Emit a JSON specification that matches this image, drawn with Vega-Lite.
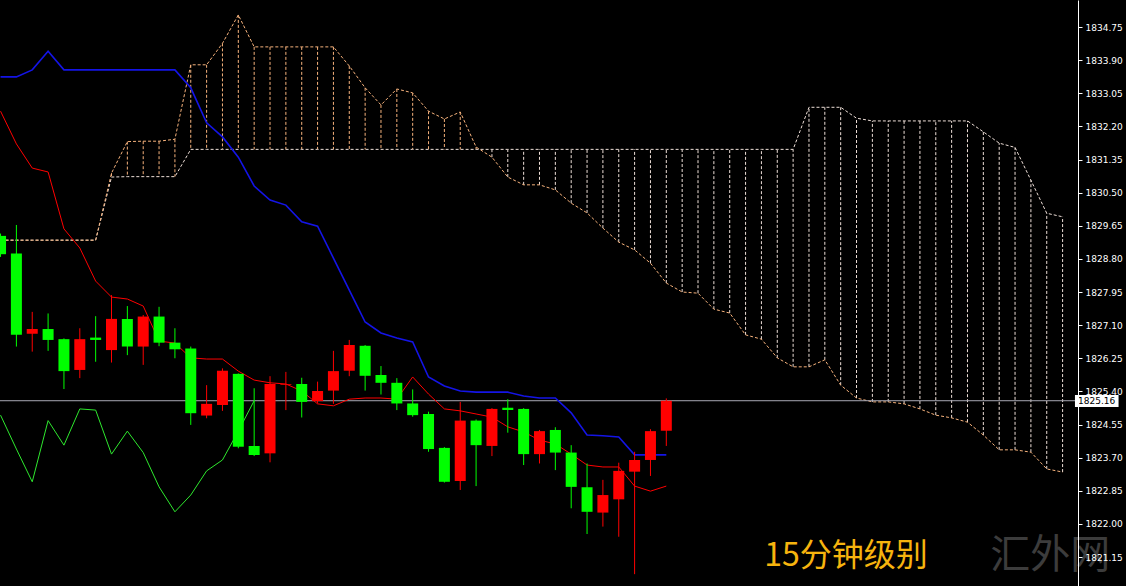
{
  "$schema": "https://vega.github.io/schema/vega-lite/v6.json",
  "width": 1078,
  "height": 586,
  "autosize": {"type": "none"},
  "padding": {"left": 0, "top": 0, "right": 48, "bottom": 0},
  "background": "#000000",
  "config": {"view": {"stroke": null}},
  "datasets": {
    "one": [{}],
    "candles": [
      {"i": -1, "o": 1829.39, "h": 1829.45, "l": 1828.85, "c": 1828.92},
      {"i": 0, "o": 1828.94, "h": 1829.67, "l": 1826.55, "c": 1826.85},
      {"i": 1, "o": 1826.88, "h": 1827.44, "l": 1826.42, "c": 1827.00},
      {"i": 2, "o": 1827.00, "h": 1827.40, "l": 1826.44, "c": 1826.72},
      {"i": 3, "o": 1826.74, "h": 1826.76, "l": 1825.46, "c": 1825.92},
      {"i": 4, "o": 1825.95, "h": 1827.02, "l": 1825.74, "c": 1826.74},
      {"i": 5, "o": 1826.78, "h": 1827.33, "l": 1826.16, "c": 1826.72},
      {"i": 6, "o": 1826.46, "h": 1827.87, "l": 1826.14, "c": 1827.26},
      {"i": 7, "o": 1827.26, "h": 1827.59, "l": 1826.33, "c": 1826.55},
      {"i": 8, "o": 1826.55, "h": 1827.36, "l": 1826.08, "c": 1827.32},
      {"i": 9, "o": 1827.32, "h": 1827.57, "l": 1826.56, "c": 1826.65},
      {"i": 10, "o": 1826.65, "h": 1827.02, "l": 1826.25, "c": 1826.48},
      {"i": 11, "o": 1826.50, "h": 1826.55, "l": 1824.54, "c": 1824.84},
      {"i": 12, "o": 1824.78, "h": 1825.56, "l": 1824.71, "c": 1825.08},
      {"i": 13, "o": 1825.05, "h": 1825.99, "l": 1824.90, "c": 1825.93},
      {"i": 14, "o": 1825.85, "h": 1825.86, "l": 1823.94, "c": 1823.98},
      {"i": 15, "o": 1824.00, "h": 1825.48, "l": 1823.74, "c": 1823.77},
      {"i": 16, "o": 1823.81, "h": 1825.79, "l": 1823.58, "c": 1825.59},
      {"i": 17, "o": 1825.57, "h": 1825.90, "l": 1824.92, "c": 1825.59},
      {"i": 18, "o": 1825.59, "h": 1825.75, "l": 1824.73, "c": 1825.13},
      {"i": 19, "o": 1825.15, "h": 1825.65, "l": 1825.09, "c": 1825.41},
      {"i": 20, "o": 1825.42, "h": 1826.44, "l": 1825.08, "c": 1825.92},
      {"i": 21, "o": 1825.93, "h": 1826.72, "l": 1825.79, "c": 1826.59},
      {"i": 22, "o": 1826.57, "h": 1826.59, "l": 1825.42, "c": 1825.80},
      {"i": 23, "o": 1825.82, "h": 1826.05, "l": 1825.32, "c": 1825.62},
      {"i": 24, "o": 1825.62, "h": 1825.74, "l": 1824.92, "c": 1825.09},
      {"i": 25, "o": 1825.09, "h": 1825.45, "l": 1824.75, "c": 1824.79},
      {"i": 26, "o": 1824.82, "h": 1824.88, "l": 1823.85, "c": 1823.92},
      {"i": 27, "o": 1823.95, "h": 1823.97, "l": 1823.06, "c": 1823.08},
      {"i": 28, "o": 1823.10, "h": 1825.13, "l": 1822.87, "c": 1824.65},
      {"i": 29, "o": 1824.65, "h": 1824.68, "l": 1822.97, "c": 1824.02},
      {"i": 30, "o": 1824.00, "h": 1824.97, "l": 1823.74, "c": 1824.95},
      {"i": 31, "o": 1824.98, "h": 1825.20, "l": 1824.34, "c": 1824.92},
      {"i": 32, "o": 1824.95, "h": 1824.97, "l": 1823.51, "c": 1823.79},
      {"i": 33, "o": 1823.79, "h": 1824.41, "l": 1823.55, "c": 1824.38},
      {"i": 34, "o": 1824.41, "h": 1824.48, "l": 1823.38, "c": 1823.83},
      {"i": 35, "o": 1823.83, "h": 1824.02, "l": 1822.40, "c": 1822.95},
      {"i": 36, "o": 1822.94, "h": 1823.55, "l": 1821.74, "c": 1822.31},
      {"i": 37, "o": 1822.29, "h": 1823.13, "l": 1821.93, "c": 1822.74},
      {"i": 38, "o": 1822.63, "h": 1823.57, "l": 1821.67, "c": 1823.36},
      {"i": 39, "o": 1823.34, "h": 1823.85, "l": 1820.71, "c": 1823.64},
      {"i": 40, "o": 1823.64, "h": 1824.43, "l": 1823.23, "c": 1824.38},
      {"i": 41, "o": 1824.39, "h": 1825.22, "l": 1824.00, "c": 1825.16}
    ],
    "lines": [
      {"i": -1, "tenkan": 1832.59, "kijun": 1833.47},
      {"i": 0, "tenkan": 1831.75, "kijun": 1833.47},
      {"i": 1, "tenkan": 1831.13, "kijun": 1833.65},
      {"i": 2, "tenkan": 1831.03, "kijun": 1834.13},
      {"i": 3, "tenkan": 1829.57, "kijun": 1833.65},
      {"i": 4, "tenkan": 1829.08, "kijun": 1833.65},
      {"i": 5, "tenkan": 1828.23, "kijun": 1833.65},
      {"i": 6, "tenkan": 1827.82, "kijun": 1833.65},
      {"i": 7, "tenkan": 1827.77, "kijun": 1833.65},
      {"i": 8, "tenkan": 1827.59, "kijun": 1833.65},
      {"i": 9, "tenkan": 1826.69, "kijun": 1833.65},
      {"i": 10, "tenkan": 1826.64, "kijun": 1833.65},
      {"i": 11, "tenkan": 1826.26, "kijun": 1833.19},
      {"i": 12, "tenkan": 1826.23, "kijun": 1832.29},
      {"i": 13, "tenkan": 1826.23, "kijun": 1831.93},
      {"i": 14, "tenkan": 1825.92, "kijun": 1831.41},
      {"i": 15, "tenkan": 1825.69, "kijun": 1830.67},
      {"i": 16, "tenkan": 1825.62, "kijun": 1830.31},
      {"i": 17, "tenkan": 1825.59, "kijun": 1830.18},
      {"i": 18, "tenkan": 1825.41, "kijun": 1829.75},
      {"i": 19, "tenkan": 1825.08, "kijun": 1829.64},
      {"i": 20, "tenkan": 1825.03, "kijun": 1828.82},
      {"i": 21, "tenkan": 1825.20, "kijun": 1828.00},
      {"i": 22, "tenkan": 1825.23, "kijun": 1827.18},
      {"i": 23, "tenkan": 1825.23, "kijun": 1826.90},
      {"i": 24, "tenkan": 1825.20, "kijun": 1826.77},
      {"i": 25, "tenkan": 1825.77, "kijun": 1826.67},
      {"i": 26, "tenkan": 1825.33, "kijun": 1825.77},
      {"i": 27, "tenkan": 1824.95, "kijun": 1825.54},
      {"i": 28, "tenkan": 1824.90, "kijun": 1825.41},
      {"i": 29, "tenkan": 1824.82, "kijun": 1825.38},
      {"i": 30, "tenkan": 1824.74, "kijun": 1825.38},
      {"i": 31, "tenkan": 1824.49, "kijun": 1825.38},
      {"i": 32, "tenkan": 1824.36, "kijun": 1825.28},
      {"i": 33, "tenkan": 1824.15, "kijun": 1825.23},
      {"i": 34, "tenkan": 1824.05, "kijun": 1825.23},
      {"i": 35, "tenkan": 1823.79, "kijun": 1824.85},
      {"i": 36, "tenkan": 1823.51, "kijun": 1824.28},
      {"i": 37, "tenkan": 1823.46, "kijun": 1824.26},
      {"i": 38, "tenkan": 1823.46, "kijun": 1824.23},
      {"i": 39, "tenkan": 1822.97, "kijun": 1823.77},
      {"i": 40, "tenkan": 1822.84, "kijun": 1823.77},
      {"i": 41, "tenkan": 1822.97, "kijun": 1823.77}
    ],
    "chikou": [
      {"i": -1, "v": 1824.79},
      {"i": 0, "v": 1823.92},
      {"i": 1, "v": 1823.08},
      {"i": 2, "v": 1824.65},
      {"i": 3, "v": 1824.02},
      {"i": 4, "v": 1824.95},
      {"i": 5, "v": 1824.92},
      {"i": 6, "v": 1823.79},
      {"i": 7, "v": 1824.38},
      {"i": 8, "v": 1823.83},
      {"i": 9, "v": 1822.95},
      {"i": 10, "v": 1822.31},
      {"i": 11, "v": 1822.74},
      {"i": 12, "v": 1823.36},
      {"i": 13, "v": 1823.64},
      {"i": 14, "v": 1824.38},
      {"i": 15, "v": 1825.16}
    ],
    "cloud": [
      {"i": -1, "a": 1829.28, "b": 1829.28},
      {"i": 0, "a": 1829.28, "b": 1829.28},
      {"i": 1, "a": 1829.28, "b": 1829.28},
      {"i": 2, "a": 1829.28, "b": 1829.28},
      {"i": 3, "a": 1829.28, "b": 1829.28},
      {"i": 4, "a": 1829.28, "b": 1829.28},
      {"i": 5, "a": 1829.28, "b": 1829.28},
      {"i": 6, "a": 1831.00, "b": 1830.90},
      {"i": 7, "a": 1831.81, "b": 1830.91},
      {"i": 8, "a": 1831.82, "b": 1830.91},
      {"i": 9, "a": 1831.82, "b": 1830.91},
      {"i": 10, "a": 1831.87, "b": 1830.91},
      {"i": 11, "a": 1833.78, "b": 1831.61},
      {"i": 12, "a": 1833.78, "b": 1831.61},
      {"i": 13, "a": 1834.33, "b": 1831.61},
      {"i": 14, "a": 1835.06, "b": 1831.61},
      {"i": 15, "a": 1834.24, "b": 1831.61},
      {"i": 16, "a": 1834.24, "b": 1831.61},
      {"i": 17, "a": 1834.24, "b": 1831.61},
      {"i": 18, "a": 1834.24, "b": 1831.61},
      {"i": 19, "a": 1834.24, "b": 1831.61},
      {"i": 20, "a": 1834.24, "b": 1831.61},
      {"i": 21, "a": 1833.75, "b": 1831.61},
      {"i": 22, "a": 1833.19, "b": 1831.61},
      {"i": 23, "a": 1832.75, "b": 1831.61},
      {"i": 24, "a": 1833.16, "b": 1831.61},
      {"i": 25, "a": 1833.06, "b": 1831.61},
      {"i": 26, "a": 1832.59, "b": 1831.61},
      {"i": 27, "a": 1832.39, "b": 1831.61},
      {"i": 28, "a": 1832.57, "b": 1831.61},
      {"i": 29, "a": 1831.67, "b": 1831.61},
      {"i": 30, "a": 1831.41, "b": 1831.61},
      {"i": 31, "a": 1830.90, "b": 1831.61},
      {"i": 32, "a": 1830.70, "b": 1831.61},
      {"i": 33, "a": 1830.70, "b": 1831.61},
      {"i": 34, "a": 1830.57, "b": 1831.61},
      {"i": 35, "a": 1830.23, "b": 1831.61},
      {"i": 36, "a": 1829.98, "b": 1831.61},
      {"i": 37, "a": 1829.59, "b": 1831.61},
      {"i": 38, "a": 1829.23, "b": 1831.61},
      {"i": 39, "a": 1829.03, "b": 1831.61},
      {"i": 40, "a": 1828.69, "b": 1831.61},
      {"i": 41, "a": 1828.18, "b": 1831.61},
      {"i": 42, "a": 1827.95, "b": 1831.61},
      {"i": 43, "a": 1827.92, "b": 1831.61},
      {"i": 44, "a": 1827.51, "b": 1831.61},
      {"i": 45, "a": 1827.41, "b": 1831.61},
      {"i": 46, "a": 1826.85, "b": 1831.61},
      {"i": 47, "a": 1826.74, "b": 1831.61},
      {"i": 48, "a": 1826.26, "b": 1831.61},
      {"i": 49, "a": 1826.03, "b": 1831.61},
      {"i": 50, "a": 1826.03, "b": 1832.69},
      {"i": 51, "a": 1826.21, "b": 1832.69},
      {"i": 52, "a": 1825.56, "b": 1832.69},
      {"i": 53, "a": 1825.23, "b": 1832.41},
      {"i": 54, "a": 1825.13, "b": 1832.34},
      {"i": 55, "a": 1825.13, "b": 1832.34},
      {"i": 56, "a": 1825.08, "b": 1832.34},
      {"i": 57, "a": 1824.95, "b": 1832.34},
      {"i": 58, "a": 1824.79, "b": 1832.34},
      {"i": 59, "a": 1824.72, "b": 1832.34},
      {"i": 60, "a": 1824.61, "b": 1832.34},
      {"i": 61, "a": 1824.28, "b": 1832.06},
      {"i": 62, "a": 1823.90, "b": 1831.77},
      {"i": 63, "a": 1823.90, "b": 1831.66},
      {"i": 64, "a": 1823.84, "b": 1830.82},
      {"i": 65, "a": 1823.41, "b": 1829.97},
      {"i": 66, "a": 1823.33, "b": 1829.88}
    ]
  },
  "layer": [
    {
      "data": {"name": "cloud"},
      "mark": {"type": "rule", "strokeWidth": 1, "strokeDash": [3, 2]},
      "encoding": {
        "x": {"field": "i", "type": "quantitative", "scale": {"domain": [-0.71875, 66.65625], "nice": false, "zero": false}, "axis": null},
        "y": {"field": "a", "type": "quantitative", "scale": {"domain": [1820.406, 1835.443], "nice": false, "zero": false},
          "axis": {"orient": "right", "title": null, "values": [1821.15, 1822.00, 1822.85, 1823.70, 1824.55, 1825.40, 1826.25, 1827.10, 1827.95, 1828.80, 1829.65, 1830.50, 1831.35, 1832.20, 1833.05, 1833.90, 1834.75], "format": ".2f", "grid": false, "labelColor": "#ffffff", "labelFont": "DejaVu Sans", "labelFontSize": 9, "tickColor": "#ffffff", "tickSize": 4, "labelPadding": 3, "domainColor": "#ffffff", "domainWidth": 1, "labelOverlap": false, "labelFlush": false, "zindex": 1}},
        "y2": {"field": "b"},
        "color": {"condition": {"test": "datum.a > datum.b", "value": "#F6B27C"}, "value": "#EEDFD8"}
      }
    },
    {
      "data": {"name": "cloud"},
      "mark": {"type": "line", "strokeWidth": 1, "strokeDash": [3, 2], "color": "#EEDFD8"},
      "encoding": {
        "x": {"field": "i", "type": "quantitative", "scale": {"domain": [-0.71875, 66.65625], "nice": false, "zero": false}, "axis": null},
        "y": {"field": "b", "type": "quantitative", "scale": {"domain": [1820.406, 1835.443], "nice": false, "zero": false},
          "axis": {"orient": "right", "title": null, "values": [1821.15, 1822.00, 1822.85, 1823.70, 1824.55, 1825.40, 1826.25, 1827.10, 1827.95, 1828.80, 1829.65, 1830.50, 1831.35, 1832.20, 1833.05, 1833.90, 1834.75], "format": ".2f", "grid": false, "labelColor": "#ffffff", "labelFont": "DejaVu Sans", "labelFontSize": 9, "tickColor": "#ffffff", "tickSize": 4, "labelPadding": 3, "domainColor": "#ffffff", "domainWidth": 1, "labelOverlap": false, "labelFlush": false, "zindex": 1}}
      }
    },
    {
      "data": {"name": "cloud"},
      "mark": {"type": "line", "strokeWidth": 1, "strokeDash": [3, 2], "color": "#F6B27C"},
      "encoding": {
        "x": {"field": "i", "type": "quantitative", "scale": {"domain": [-0.71875, 66.65625], "nice": false, "zero": false}, "axis": null},
        "y": {"field": "a", "type": "quantitative", "scale": {"domain": [1820.406, 1835.443], "nice": false, "zero": false},
          "axis": {"orient": "right", "title": null, "values": [1821.15, 1822.00, 1822.85, 1823.70, 1824.55, 1825.40, 1826.25, 1827.10, 1827.95, 1828.80, 1829.65, 1830.50, 1831.35, 1832.20, 1833.05, 1833.90, 1834.75], "format": ".2f", "grid": false, "labelColor": "#ffffff", "labelFont": "DejaVu Sans", "labelFontSize": 9, "tickColor": "#ffffff", "tickSize": 4, "labelPadding": 3, "domainColor": "#ffffff", "domainWidth": 1, "labelOverlap": false, "labelFlush": false, "zindex": 1}}
      }
    },
    {
      "data": {"name": "one"},
      "mark": {"type": "rule", "color": "#a8a8b4", "strokeWidth": 1},
      "encoding": {
        "y": {"datum": 1825.16, "type": "quantitative", "scale": {"domain": [1820.406, 1835.443], "nice": false, "zero": false},
          "axis": {"orient": "right", "title": null, "values": [1821.15, 1822.00, 1822.85, 1823.70, 1824.55, 1825.40, 1826.25, 1827.10, 1827.95, 1828.80, 1829.65, 1830.50, 1831.35, 1832.20, 1833.05, 1833.90, 1834.75], "format": ".2f", "grid": false, "labelColor": "#ffffff", "labelFont": "DejaVu Sans", "labelFontSize": 9, "tickColor": "#ffffff", "tickSize": 4, "labelPadding": 3, "domainColor": "#ffffff", "domainWidth": 1, "labelOverlap": false, "labelFlush": false, "zindex": 1}}
      }
    },
    {
      "data": {"name": "lines"},
      "mark": {"type": "line", "strokeWidth": 1, "color": "#ff0000"},
      "encoding": {
        "x": {"field": "i", "type": "quantitative", "scale": {"domain": [-0.71875, 66.65625], "nice": false, "zero": false}, "axis": null},
        "y": {"field": "tenkan", "type": "quantitative", "scale": {"domain": [1820.406, 1835.443], "nice": false, "zero": false},
          "axis": {"orient": "right", "title": null, "values": [1821.15, 1822.00, 1822.85, 1823.70, 1824.55, 1825.40, 1826.25, 1827.10, 1827.95, 1828.80, 1829.65, 1830.50, 1831.35, 1832.20, 1833.05, 1833.90, 1834.75], "format": ".2f", "grid": false, "labelColor": "#ffffff", "labelFont": "DejaVu Sans", "labelFontSize": 9, "tickColor": "#ffffff", "tickSize": 4, "labelPadding": 3, "domainColor": "#ffffff", "domainWidth": 1, "labelOverlap": false, "labelFlush": false, "zindex": 1}}
      }
    },
    {
      "data": {"name": "lines"},
      "mark": {"type": "line", "strokeWidth": 1.6, "color": "#1414e6"},
      "encoding": {
        "x": {"field": "i", "type": "quantitative", "scale": {"domain": [-0.71875, 66.65625], "nice": false, "zero": false}, "axis": null},
        "y": {"field": "kijun", "type": "quantitative", "scale": {"domain": [1820.406, 1835.443], "nice": false, "zero": false},
          "axis": {"orient": "right", "title": null, "values": [1821.15, 1822.00, 1822.85, 1823.70, 1824.55, 1825.40, 1826.25, 1827.10, 1827.95, 1828.80, 1829.65, 1830.50, 1831.35, 1832.20, 1833.05, 1833.90, 1834.75], "format": ".2f", "grid": false, "labelColor": "#ffffff", "labelFont": "DejaVu Sans", "labelFontSize": 9, "tickColor": "#ffffff", "tickSize": 4, "labelPadding": 3, "domainColor": "#ffffff", "domainWidth": 1, "labelOverlap": false, "labelFlush": false, "zindex": 1}}
      }
    },
    {
      "data": {"name": "chikou"},
      "mark": {"type": "line", "strokeWidth": 1, "color": "#2ee82e"},
      "encoding": {
        "x": {"field": "i", "type": "quantitative", "scale": {"domain": [-0.71875, 66.65625], "nice": false, "zero": false}, "axis": null},
        "y": {"field": "v", "type": "quantitative", "scale": {"domain": [1820.406, 1835.443], "nice": false, "zero": false},
          "axis": {"orient": "right", "title": null, "values": [1821.15, 1822.00, 1822.85, 1823.70, 1824.55, 1825.40, 1826.25, 1827.10, 1827.95, 1828.80, 1829.65, 1830.50, 1831.35, 1832.20, 1833.05, 1833.90, 1834.75], "format": ".2f", "grid": false, "labelColor": "#ffffff", "labelFont": "DejaVu Sans", "labelFontSize": 9, "tickColor": "#ffffff", "tickSize": 4, "labelPadding": 3, "domainColor": "#ffffff", "domainWidth": 1, "labelOverlap": false, "labelFlush": false, "zindex": 1}}
      }
    },
    {
      "data": {"name": "candles"},
      "mark": {"type": "rule", "strokeWidth": 1},
      "encoding": {
        "x": {"field": "i", "type": "quantitative", "scale": {"domain": [-0.71875, 66.65625], "nice": false, "zero": false}, "axis": null},
        "y": {"field": "l", "type": "quantitative", "scale": {"domain": [1820.406, 1835.443], "nice": false, "zero": false},
          "axis": {"orient": "right", "title": null, "values": [1821.15, 1822.00, 1822.85, 1823.70, 1824.55, 1825.40, 1826.25, 1827.10, 1827.95, 1828.80, 1829.65, 1830.50, 1831.35, 1832.20, 1833.05, 1833.90, 1834.75], "format": ".2f", "grid": false, "labelColor": "#ffffff", "labelFont": "DejaVu Sans", "labelFontSize": 9, "tickColor": "#ffffff", "tickSize": 4, "labelPadding": 3, "domainColor": "#ffffff", "domainWidth": 1, "labelOverlap": false, "labelFlush": false, "zindex": 1}},
        "y2": {"field": "h"},
        "color": {"condition": {"test": "datum.c > datum.o", "value": "#ff0000"}, "value": "#00ff00"}
      }
    },
    {
      "data": {"name": "candles"},
      "mark": {"type": "bar", "size": 11},
      "encoding": {
        "x": {"field": "i", "type": "quantitative", "scale": {"domain": [-0.71875, 66.65625], "nice": false, "zero": false}, "axis": null},
        "y": {"field": "o", "type": "quantitative", "scale": {"domain": [1820.406, 1835.443], "nice": false, "zero": false},
          "axis": {"orient": "right", "title": null, "values": [1821.15, 1822.00, 1822.85, 1823.70, 1824.55, 1825.40, 1826.25, 1827.10, 1827.95, 1828.80, 1829.65, 1830.50, 1831.35, 1832.20, 1833.05, 1833.90, 1834.75], "format": ".2f", "grid": false, "labelColor": "#ffffff", "labelFont": "DejaVu Sans", "labelFontSize": 9, "tickColor": "#ffffff", "tickSize": 4, "labelPadding": 3, "domainColor": "#ffffff", "domainWidth": 1, "labelOverlap": false, "labelFlush": false, "zindex": 1}},
        "y2": {"field": "c"},
        "color": {"condition": {"test": "datum.c > datum.o", "value": "#ff0000"}, "value": "#00ff00"}
      }
    },
    {
      "data": {"name": "one"},
      "mark": {"type": "text", "text": "15分钟级别", "font": "Noto Sans CJK SC", "fontSize": 32, "color": "#F6B40E", "align": "center", "baseline": "middle"},
      "encoding": {
        "x": {"datum": 52.34, "type": "quantitative", "scale": {"domain": [-0.71875, 66.65625], "nice": false, "zero": false}, "axis": null},
        "y": {"datum": 1821.18, "type": "quantitative", "scale": {"domain": [1820.406, 1835.443], "nice": false, "zero": false},
          "axis": {"orient": "right", "title": null, "values": [1821.15, 1822.00, 1822.85, 1823.70, 1824.55, 1825.40, 1826.25, 1827.10, 1827.95, 1828.80, 1829.65, 1830.50, 1831.35, 1832.20, 1833.05, 1833.90, 1834.75], "format": ".2f", "grid": false, "labelColor": "#ffffff", "labelFont": "DejaVu Sans", "labelFontSize": 9, "tickColor": "#ffffff", "tickSize": 4, "labelPadding": 3, "domainColor": "#ffffff", "domainWidth": 1, "labelOverlap": false, "labelFlush": false, "zindex": 1}}
      }
    },
    {
      "data": {"name": "one"},
      "mark": {"type": "text", "text": "汇外网", "font": "Noto Sans CJK SC", "fontSize": 40, "color": "#3c3c3c", "align": "center", "baseline": "middle"},
      "encoding": {
        "x": {"datum": 65.22, "type": "quantitative", "scale": {"domain": [-0.71875, 66.65625], "nice": false, "zero": false}, "axis": null},
        "y": {"datum": 1821.18, "type": "quantitative", "scale": {"domain": [1820.406, 1835.443], "nice": false, "zero": false},
          "axis": {"orient": "right", "title": null, "values": [1821.15, 1822.00, 1822.85, 1823.70, 1824.55, 1825.40, 1826.25, 1827.10, 1827.95, 1828.80, 1829.65, 1830.50, 1831.35, 1832.20, 1833.05, 1833.90, 1834.75], "format": ".2f", "grid": false, "labelColor": "#ffffff", "labelFont": "DejaVu Sans", "labelFontSize": 9, "tickColor": "#ffffff", "tickSize": 4, "labelPadding": 3, "domainColor": "#ffffff", "domainWidth": 1, "labelOverlap": false, "labelFlush": false, "zindex": 1}}
      }
    },
    {
      "data": {"name": "one"},
      "mark": {"type": "rect", "color": "#ffffff"},
      "encoding": {
        "x": {"datum": 66.78, "type": "quantitative", "scale": {"domain": [-0.71875, 66.65625], "nice": false, "zero": false}, "axis": null},
        "x2": {"datum": 69.53},
        "y": {"datum": 1825.31, "type": "quantitative", "scale": {"domain": [1820.406, 1835.443], "nice": false, "zero": false},
          "axis": {"orient": "right", "title": null, "values": [1821.15, 1822.00, 1822.85, 1823.70, 1824.55, 1825.40, 1826.25, 1827.10, 1827.95, 1828.80, 1829.65, 1830.50, 1831.35, 1832.20, 1833.05, 1833.90, 1834.75], "format": ".2f", "grid": false, "labelColor": "#ffffff", "labelFont": "DejaVu Sans", "labelFontSize": 9, "tickColor": "#ffffff", "tickSize": 4, "labelPadding": 3, "domainColor": "#ffffff", "domainWidth": 1, "labelOverlap": false, "labelFlush": false, "zindex": 1}},
        "y2": {"datum": 1825.00}
      }
    },
    {
      "data": {"name": "one"},
      "mark": {"type": "text", "text": "1825.16", "font": "DejaVu Sans", "fontSize": 9, "color": "#000000", "align": "center", "baseline": "middle"},
      "encoding": {
        "x": {"datum": 68.15, "type": "quantitative", "scale": {"domain": [-0.71875, 66.65625], "nice": false, "zero": false}, "axis": null},
        "y": {"datum": 1825.16, "type": "quantitative", "scale": {"domain": [1820.406, 1835.443], "nice": false, "zero": false},
          "axis": {"orient": "right", "title": null, "values": [1821.15, 1822.00, 1822.85, 1823.70, 1824.55, 1825.40, 1826.25, 1827.10, 1827.95, 1828.80, 1829.65, 1830.50, 1831.35, 1832.20, 1833.05, 1833.90, 1834.75], "format": ".2f", "grid": false, "labelColor": "#ffffff", "labelFont": "DejaVu Sans", "labelFontSize": 9, "tickColor": "#ffffff", "tickSize": 4, "labelPadding": 3, "domainColor": "#ffffff", "domainWidth": 1, "labelOverlap": false, "labelFlush": false, "zindex": 1}}
      }
    }
  ]
}
